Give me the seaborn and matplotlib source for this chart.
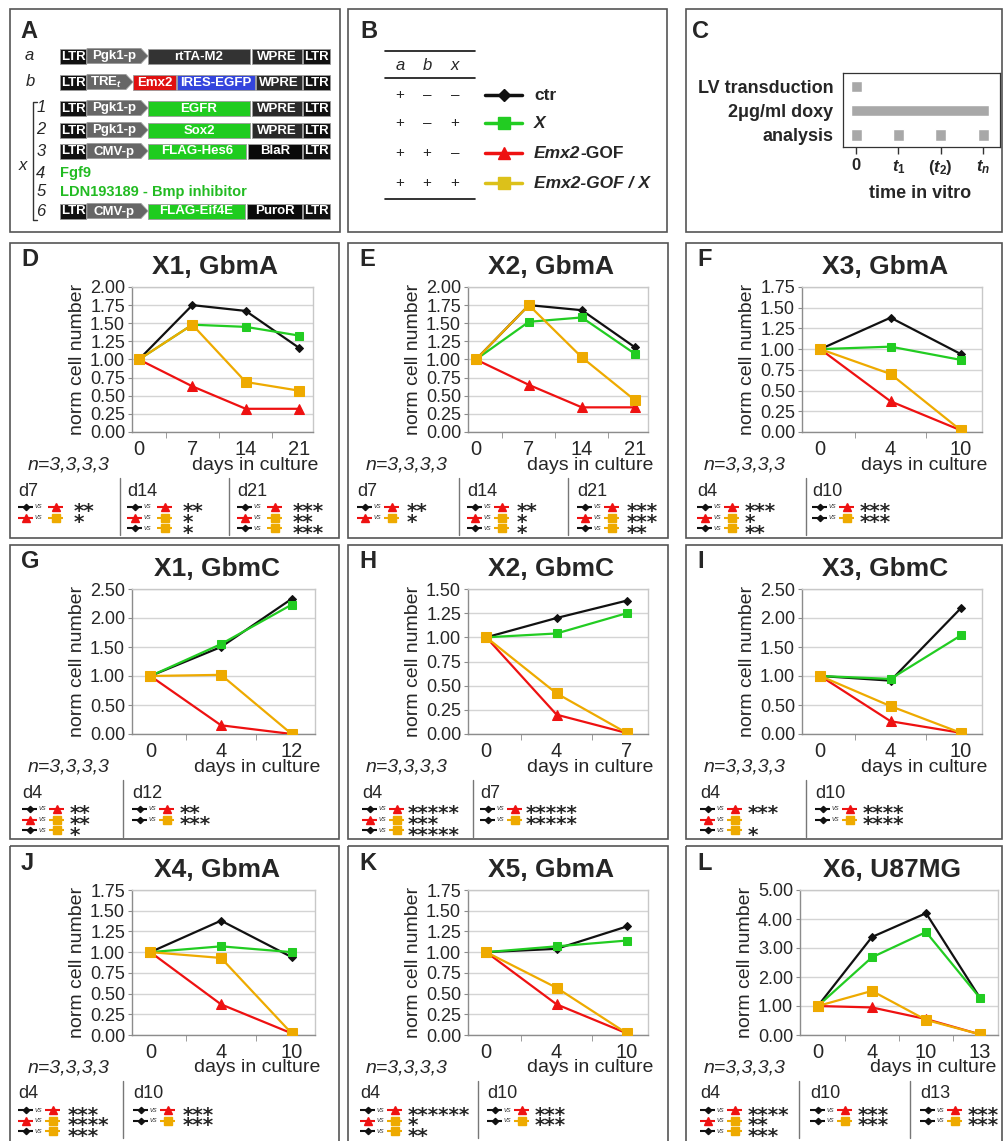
import numpy as np
import pandas as pd
import matplotlib
matplotlib.use("Agg")
import matplotlib.pyplot as plt
from matplotlib.patches import Rectangle, Polygon
from matplotlib.ticker import FormatStrFormatter
import seaborn as sns

sns.set_style("white")
plt.rcParams["font.family"] = ["Liberation Sans", "DejaVu Sans"]
plt.rcParams["mathtext.fontset"] = "custom"
plt.rcParams["mathtext.rm"] = "Liberation Sans:bold"
plt.rcParams["mathtext.it"] = "Liberation Sans:italic:bold"
plt.rcParams["mathtext.bf"] = "Liberation Sans:bold"

W, H = 1005, 1141

# ---------------- data ----------------
series = ["ctr", "X", "gof", "gofx"]

days_D = [0, 7, 14, 21]
ctr_D = [1.00, 1.75, 1.67, 1.16]
x_D = [1.00, 1.48, 1.45, 1.33]
gof_D = [1.00, 0.63, 0.32, 0.32]
gofx_D = [1.00, 1.48, 0.69, 0.57]

days_E = [0, 7, 14, 21]
ctr_E = [1.00, 1.75, 1.68, 1.17]
x_E = [1.00, 1.52, 1.58, 1.08]
gof_E = [1.00, 0.65, 0.34, 0.34]
gofx_E = [1.00, 1.75, 1.03, 0.44]

days_F = [0, 4, 10]
ctr_F = [1.00, 1.38, 0.94]
x_F = [1.00, 1.03, 0.87]
gof_F = [1.00, 0.37, 0.02]
gofx_F = [1.00, 0.70, 0.02]

days_G = [0, 4, 12]
ctr_G = [1.00, 1.50, 2.33]
x_G = [1.00, 1.55, 2.23]
gof_G = [1.00, 0.15, 0.00]
gofx_G = [1.00, 1.02, 0.00]

days_H = [0, 4, 7]
ctr_H = [1.00, 1.20, 1.38]
x_H = [1.00, 1.04, 1.25]
gof_H = [1.00, 0.20, 0.01]
gofx_H = [1.00, 0.42, 0.01]

days_I = [0, 4, 10]
ctr_I = [1.00, 0.92, 2.17]
x_I = [1.00, 0.95, 1.70]
gof_I = [1.00, 0.22, 0.02]
gofx_I = [1.00, 0.48, 0.02]

days_J = [0, 4, 10]
ctr_J = [1.00, 1.38, 0.94]
x_J = [1.00, 1.07, 1.00]
gof_J = [1.00, 0.37, 0.02]
gofx_J = [1.00, 0.93, 0.02]

days_K = [0, 4, 10]
ctr_K = [1.00, 1.04, 1.31]
x_K = [1.00, 1.07, 1.14]
gof_K = [1.00, 0.37, 0.02]
gofx_K = [1.00, 0.57, 0.02]

days_L = [0, 4, 10, 13]
ctr_L = [1.00, 3.38, 4.20, 1.27]
x_L = [1.00, 2.68, 3.55, 1.27]
gof_L = [1.00, 0.95, 0.55, 0.02]
gofx_L = [1.00, 1.52, 0.52, 0.02]

# significance tables: (day, [(group1, group2, stars), ...])
stats_D = [("d7", [("ctr", "gof", "**"), ("gof", "gofx", "*")]),
           ("d14", [("ctr", "gof", "**"), ("gof", "gofx", "*"), ("ctr", "gofx", "*")]),
           ("d21", [("ctr", "gof", "***"), ("gof", "gofx", "**"), ("ctr", "gofx", "***")])]
stats_E = [("d7", [("ctr", "gof", "**"), ("gof", "gofx", "*")]),
           ("d14", [("ctr", "gof", "**"), ("gof", "gofx", "*"), ("ctr", "gofx", "*")]),
           ("d21", [("ctr", "gof", "***"), ("gof", "gofx", "***"), ("ctr", "gofx", "**")])]
stats_F = [("d4", [("ctr", "gof", "***"), ("gof", "gofx", "*"), ("ctr", "gofx", "**")]),
           ("d10", [("ctr", "gof", "***"), ("ctr", "gofx", "***")])]
stats_G = [("d4", [("ctr", "gof", "**"), ("gof", "gofx", "**"), ("ctr", "gofx", "*")]),
           ("d12", [("ctr", "gof", "**"), ("ctr", "gofx", "***")])]
stats_H = [("d4", [("ctr", "gof", "*****"), ("gof", "gofx", "***"), ("ctr", "gofx", "*****")]),
           ("d7", [("ctr", "gof", "*****"), ("ctr", "gofx", "*****")])]
stats_I = [("d4", [("ctr", "gof", "***"), ("gof", "gofx", ""), ("ctr", "gofx", "*")]),
           ("d10", [("ctr", "gof", "****"), ("ctr", "gofx", "****")])]
stats_J = [("d4", [("ctr", "gof", "***"), ("gof", "gofx", "****"), ("ctr", "gofx", "***")]),
           ("d10", [("ctr", "gof", "***"), ("ctr", "gofx", "***")])]
stats_K = [("d4", [("ctr", "gof", "******"), ("gof", "gofx", "*"), ("ctr", "gofx", "**")]),
           ("d10", [("ctr", "gof", "***"), ("ctr", "gofx", "***")])]
stats_L = [("d4", [("ctr", "gof", "****"), ("gof", "gofx", "**"), ("ctr", "gofx", "***")]),
           ("d10", [("ctr", "gof", "***"), ("ctr", "gofx", "***")]),
           ("d13", [("ctr", "gof", "***"), ("ctr", "gofx", "***")])]

# ---------------- styles ----------------
colors = {"ctr": "#111111", "X": "#22cc22", "gof": "#ee1111", "gofx": "#eeaa00"}
markers = {"ctr": "D", "X": "s", "gof": "^", "gofx": "s"}
msize = {"ctr": 4, "X": 6, "gof": 6.5, "gofx": 6.5}
draw_order = ["ctr", "X", "gof", "gofx"]

fig = plt.figure(figsize=(W / 100, H / 100), dpi=100)


def px_rect(l, t, r, b):
    return [l / W, 1 - b / H, (r - l) / W, (b - t) / H]


canvas = fig.add_axes([0, 0, 1, 1], zorder=0)
canvas.set_xlim(0, W)
canvas.set_ylim(H, 0)
canvas.axis("off")


def box(x0, y0, x1, y1):
    canvas.add_patch(Rectangle((x0, y0), x1 - x0, y1 - y0, fill=False,
                               ec="#555555", lw=1.2))


def sym(x0, y, g, width=15, lw=1.5, ms=None):
    canvas.plot([x0, x0 + width], [y, y], color=colors[g], lw=lw, solid_capstyle="butt")
    canvas.plot([x0 + width / 2], [y], marker=markers[g], color=colors[g],
                ms=ms if ms else msize[g] * 0.8, mec=colors[g])


# ---------------- panel A ----------------
box(10, 9, 340, 232)
canvas.text(20, 31, "A", fontsize=17, fontweight="bold", va="center")


def gene(x0, x1, y, color, label, arrow=False, h=15):
    if arrow:
        pts = [(x0, y - h / 2), (x1 - 7, y - h / 2), (x1, y), (x1 - 7, y + h / 2), (x0, y + h / 2)]
        cx = (x0 + x1 - 7) / 2
    else:
        pts = [(x0, y - h / 2), (x1, y - h / 2), (x1, y + h / 2), (x0, y + h / 2)]
        cx = (x0 + x1) / 2
    canvas.add_patch(Polygon(pts, closed=True, fc=color, ec="#9a9a9a", lw=0.6))
    canvas.text(cx, y + 0.5, label, color="white", fontsize=9.5, fontweight="bold",
                ha="center", va="center")


GREEN_BOX = "#1fcc1f"
ltr = "#111111"
constructs = [
    (56, [(60, 86, ltr, "LTR", False), (87, 148, "#666666", "Pgk1-p", True),
          (148, 250, "#333333", "rtTA-M2", False), (252, 302, "#2a2a2a", "WPRE", False),
          (303, 330, ltr, "LTR", False)]),
    (82, [(60, 86, ltr, "LTR", False), (87, 133, "#666666", r"TRE$_\mathit{t}$", True),
          (133, 176, "#e01010", "Emx2", False), (177, 255, "#3344dd", "IRES-EGFP", False),
          (256, 302, "#2a2a2a", "WPRE", False), (303, 330, ltr, "LTR", False)]),
    (108, [(60, 86, ltr, "LTR", False), (87, 148, "#666666", "Pgk1-p", True),
           (148, 250, GREEN_BOX, "EGFR", False), (252, 302, "#2a2a2a", "WPRE", False),
           (303, 330, ltr, "LTR", False)]),
    (130, [(60, 86, ltr, "LTR", False), (87, 148, "#666666", "Pgk1-p", True),
           (148, 250, GREEN_BOX, "Sox2", False), (252, 302, "#2a2a2a", "WPRE", False),
           (303, 330, ltr, "LTR", False)]),
    (151, [(60, 86, ltr, "LTR", False), (87, 148, "#666666", "CMV-p", True),
           (148, 246, GREEN_BOX, "FLAG-Hes6", False), (248, 302, "#0a0a0a", "BlaR", False),
           (303, 330, ltr, "LTR", False)]),
    (211, [(60, 86, ltr, "LTR", False), (87, 148, "#666666", "CMV-p", True),
           (148, 245, GREEN_BOX, "FLAG-Eif4E", False), (247, 302, "#0a0a0a", "PuroR", False),
           (303, 330, ltr, "LTR", False)]),
]
for y, parts in constructs:
    for x0, x1, c, lab, arr in parts:
        gene(x0, x1, y, c, lab, arr)

canvas.text(60, 173, "Fgf9", color="#22bb22", fontsize=10.5, fontweight="bold", va="center")
canvas.text(60, 192, "LDN193189 - Bmp inhibitor", color="#22bb22", fontsize=10.5,
            fontweight="bold", va="center")
canvas.text(29, 56, "a", fontsize=12, style="italic", ha="center", va="center")
canvas.text(30, 82, "b", fontsize=12, style="italic", ha="center", va="center")
for i, yy in enumerate([108, 130, 151, 173, 192, 211]):
    canvas.text(41, yy, str(i + 1), fontsize=12, style="italic", ha="center", va="center")
canvas.text(23, 165, "x", fontsize=12, style="italic", ha="center", va="center")
canvas.plot([37, 33, 33, 37], [102, 102, 220, 220], color="#333333", lw=1)

# ---------------- panel B ----------------
box(348, 9, 667, 232)
canvas.text(360, 31, "B", fontsize=17, fontweight="bold", va="center")
canvas.plot([385, 475], [51, 51], color="#111111", lw=1.2)
canvas.plot([385, 475], [78, 78], color="#111111", lw=1.2)
canvas.plot([385, 475], [199, 199], color="#111111", lw=1.2)
for xx, t in zip([400, 427, 455], ["a", "b", "x"]):
    canvas.text(xx, 65, t, fontsize=12, style="italic", ha="center", va="center")
signs = [["+", "\u2013", "\u2013"], ["+", "\u2013", "+"], ["+", "+", "\u2013"], ["+", "+", "+"]]
rows_b = [95, 123, 153, 183]
for yy, sg in zip(rows_b, signs):
    for xx, s in zip([400, 427, 455], sg):
        canvas.text(xx, yy, s, fontsize=11, ha="center", va="center")
leg_ms = {"ctr": 6, "X": 8, "gof": 8.5, "gofx": 8.5}
leg_col = dict(colors)
leg_col["gofx"] = "#dcc11a"
for yy, g in zip(rows_b, draw_order):
    canvas.plot([485, 522], [yy, yy], color=leg_col[g], lw=2.5)
    canvas.plot([503.5], [yy], marker=markers[g], color=leg_col[g], ms=leg_ms[g], mec=leg_col[g])
canvas.text(534, 95, "ctr", fontsize=12.5, fontweight="bold", va="center")
canvas.text(534, 123, "X", fontsize=12.5, fontweight="bold", style="italic", va="center")
t1 = canvas.text(534, 153, "Emx2", fontsize=12.5, fontweight="bold", style="italic", va="center")
canvas.annotate("-GOF", xycoords=t1, xy=(1, 0.5), va="center", fontsize=12.5, fontweight="bold")
canvas.text(534, 183, "Emx2-GOF / X", fontsize=12.5, fontweight="bold", style="italic", va="center")

# ---------------- panel C ----------------
box(686, 9, 1002, 232)
canvas.text(692, 31, "C", fontsize=17, fontweight="bold", va="center")
c_rows = ["LV transduction", "2\u03bcg/ml doxy", "analysis"]
c_ticks = ["0", r"$t_1$", r"$(t_2)$", r"$t_n$"]
lv_times = [0]
doxy_span = [0, 3]
analysis_times = [0, 1, 2, 3]
axc = fig.add_axes(px_rect(843, 73, 1000, 147), zorder=1)
half = 0.13
bar_c = "#a8a8a8"
axc.barh([0] * len(lv_times), [2 * half] * len(lv_times),
         left=[t - half for t in lv_times], height=0.46, color=bar_c)
axc.barh([1], [doxy_span[1] - doxy_span[0] + 2 * half], left=[doxy_span[0] - half],
         height=0.46, color=bar_c)
axc.barh([2] * len(analysis_times), [2 * half] * len(analysis_times),
         left=[t - half for t in analysis_times], height=0.46, color=bar_c)
axc.set_xlim(-0.31, 3.40)
axc.set_ylim(2.5, -0.58)
axc.set_yticks([0, 1, 2])
axc.set_yticklabels(c_rows, fontsize=13, fontweight="bold")
axc.set_xticks(range(len(c_ticks)))
axc.set_xticklabels(c_ticks, fontsize=12, fontweight="bold")
axc.tick_params(axis="y", length=0, pad=7)
axc.tick_params(axis="x", length=5, width=1, color="#333333", pad=3, direction="out",
                bottom=True)
for s in axc.spines.values():
    s.set_color("#333333")
    s.set_linewidth(0.9)
canvas.text(920, 194, "time in vitro", fontsize=13, fontweight="bold", ha="center", va="center")

# ---------------- line chart panels ----------------
col_box = [(10, 339), (348, 668), (686, 1002)]
row_box = [(243, 538), (545, 839), (846, 1170)]

panels = [
    dict(letter="D", title="X1, GbmA", days=days_D, vals=[ctr_D, x_D, gof_D, gofx_D],
         ymax=2.0, ystep=0.25, col=0, row=0, plot=(132, 313), pad=(0.13, 0.26),
         stats=stats_D, sx=[18, 127, 237], div=[120, 229], soff=56),
    dict(letter="E", title="X2, GbmA", days=days_E, vals=[ctr_E, x_E, gof_E, gofx_E],
         ymax=2.0, ystep=0.25, col=1, row=0, plot=(468, 648), pad=(0.15, 0.25),
         stats=stats_E, sx=[357, 467, 577], div=[459, 568], soff=50),
    dict(letter="F", title="X3, GbmA", days=days_F, vals=[ctr_F, x_F, gof_F, gofx_F],
         ymax=1.75, ystep=0.25, col=2, row=0, plot=(802, 982), pad=(0.26, 0.30),
         stats=stats_F, sx=[697, 812], div=[806], soff=48),
    dict(letter="G", title="X1, GbmC", days=days_G, vals=[ctr_G, x_G, gof_G, gofx_G],
         ymax=2.5, ystep=0.5, col=0, row=1, plot=(132, 315), pad=(0.26, 0.33),
         stats=stats_G, sx=[22, 132], div=[123], soff=48),
    dict(letter="H", title="X2, GbmC", days=days_H, vals=[ctr_H, x_H, gof_H, gofx_H],
         ymax=1.5, ystep=0.25, col=1, row=1, plot=(468, 648), pad=(0.26, 0.30),
         stats=stats_H, sx=[362, 480], div=[473], soff=46),
    dict(letter="I", title="X3, GbmC", days=days_I, vals=[ctr_I, x_I, gof_I, gofx_I],
         ymax=2.5, ystep=0.5, col=2, row=1, plot=(802, 982), pad=(0.26, 0.30),
         stats=stats_I, sx=[700, 815], div=[806], soff=48),
    dict(letter="J", title="X4, GbmA", days=days_J, vals=[ctr_J, x_J, gof_J, gofx_J],
         ymax=1.75, ystep=0.25, col=0, row=2, plot=(132, 315), pad=(0.26, 0.33),
         stats=stats_J, sx=[18, 133], div=[123], soff=50),
    dict(letter="K", title="X5, GbmA", days=days_K, vals=[ctr_K, x_K, gof_K, gofx_K],
         ymax=1.75, ystep=0.25, col=1, row=2, plot=(468, 648), pad=(0.26, 0.30),
         stats=stats_K, sx=[360, 487], div=[478], soff=48),
    dict(letter="L", title="X6, U87MG", days=days_L, vals=[ctr_L, x_L, gof_L, gofx_L],
         ymax=5.0, ystep=1.0, col=2, row=2, plot=(800, 998), pad=(0.33, 0.33),
         stats=stats_L, sx=[700, 810, 920], div=[799, 910], soff=48),
]

for p in panels:
    bx0, bx1 = col_box[p["col"]]
    top, bottom = row_box[p["row"]]
    box(bx0, top, bx1, bottom)
    pl, pr = p["plot"]
    canvas.text(bx0 + 11, top + 17, p["letter"], fontsize=17, fontweight="bold", va="center")
    canvas.text((pl + pr) / 2 - 7, top + 24, p["title"], fontsize=19, fontweight="bold",
                ha="center", va="center")

    ax = fig.add_axes(px_rect(pl, top + 44, pr, top + 189), zorder=1)
    n = len(p["days"])
    df = pd.concat([pd.DataFrame({"pos": range(n), "value": v, "group": g})
                    for g, v in zip(series, p["vals"])], ignore_index=True)
    for z, g in enumerate(draw_order):
        sub = df[df["group"] == g]
        sns.lineplot(data=sub, x="pos", y="value", ax=ax, color=colors[g],
                     marker=markers[g], markersize=msize[g], markeredgecolor=colors[g],
                     linewidth=1.6, errorbar=None, legend=False, zorder=3 + z)
    ax.set_xlim(-p["pad"][0], n - 1 + p["pad"][1])
    ax.set_ylim(0, p["ymax"])
    ax.set_yticks(np.arange(0, p["ymax"] + 1e-9, p["ystep"]))
    ax.yaxis.set_major_formatter(FormatStrFormatter("%.2f"))
    ax.set_xticks(range(n))
    ax.set_xticklabels([str(d) for d in p["days"]])
    ax.set_xticks(np.arange(0.5, n - 1, 1.0), minor=True)
    ax.grid(axis="y", color="#d4d4d4", lw=1)
    ax.set_axisbelow(True)
    ax.set_xlabel("")
    ax.set_ylabel("norm cell number", fontsize=14, labelpad=3)
    for s in ["top", "right"]:
        ax.spines[s].set_color("#c8c8c8")
    for s in ["left", "bottom"]:
        ax.spines[s].set_color("#8c8c8c")
    for s in ax.spines.values():
        s.set_linewidth(1)
    ax.tick_params(axis="x", which="major", length=0, labelsize=14.5, pad=6)
    ax.tick_params(axis="x", which="minor", length=4, color="#8c8c8c", bottom=True)
    ax.tick_params(axis="y", length=3, color="#8c8c8c", labelsize=13, pad=2, left=True)

    canvas.text(bx0 + 18, top + 222, "n=3,3,3,3", fontsize=14, style="italic", va="center")
    canvas.text(min(pr + 5, bx1 - 6), top + 222, "days in culture", fontsize=14,
                ha="right", va="center")

    # significance tables
    for xd in p["div"]:
        canvas.plot([xd, xd], [top + 235, top + 292], color="#777777", lw=1)
    so = p["soff"]
    gap = 30 if so > 50 else 27
    for x0, (day, rows) in zip(p["sx"], p["stats"]):
        canvas.text(x0, top + 248, day, fontsize=13, va="center")
        for k, (g1, g2, stars) in enumerate(rows):
            yy = top + 264 + 10.7 * k
            sym(x0, yy, g1)
            canvas.text(x0 + 16.5, yy, "vs", fontsize=5.5, style="italic", color="#444444",
                        va="center")
            sym(x0 + gap, yy, g2)
            canvas.text(x0 + so, yy + 10.5, stars, fontsize=14.5, family="DejaVu Sans",
                        fontweight="bold", va="baseline", ha="left")

fig.savefig("out.png", dpi=100)
